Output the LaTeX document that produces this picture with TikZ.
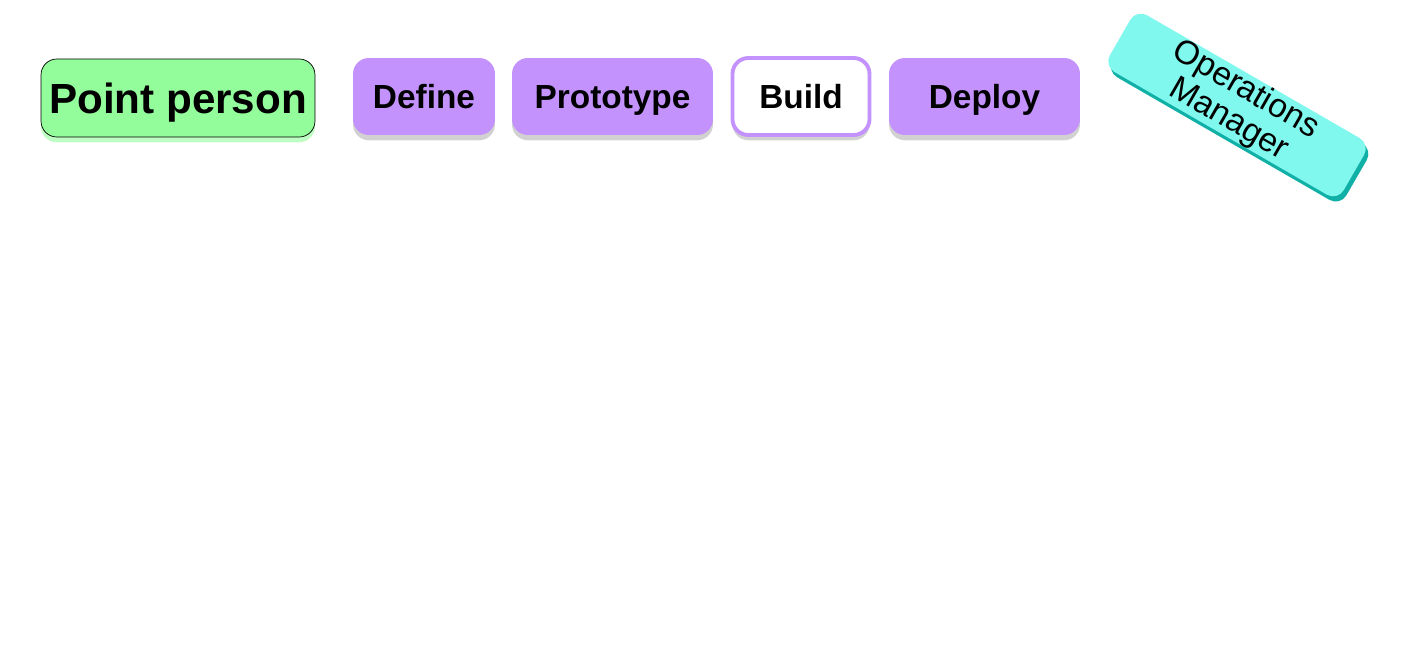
\documentclass[tikz,border=0pt]{standalone}
\usepackage{fontspec}
\setmainfont{Liberation Sans}
\usetikzlibrary{shadows,positioning}
\definecolor{pointgreen}{RGB}{147,253,155}
\definecolor{stagepurple}{RGB}{195,146,253}
\definecolor{opscyan}{RGB}{128,248,238}
\definecolor{opsteal}{RGB}{16,176,166}

\begin{document}
\begin{tikzpicture}[
    x=0.02cm, y=-0.02cm,
    stage/.style={rectangle, rounded corners=9pt, fill=stagepurple, minimum height=1.54cm,
        font=\fontsize{19}{21}\selectfont\bfseries, inner sep=0pt, text height=13.6pt, text depth=0pt,
        drop shadow={shadow xshift=0pt, shadow yshift=-3pt, fill=black, opacity=0.18}},
    lead/.style={rectangle, rounded corners=9pt, draw=black, thin, fill=pointgreen, minimum height=1.56cm,
        font=\fontsize{24}{26}\selectfont\bfseries, inner sep=0pt, text height=17.2pt, text depth=0pt,
        drop shadow={shadow xshift=0pt, shadow yshift=-3pt, fill=pointgreen, opacity=0.6}},
    ops/.style={rectangle, rounded corners=7pt, fill=opscyan, minimum width=5.4cm, minimum height=1.0cm,
        align=center, font=\fontsize{19}{19.5}\selectfont, inner sep=0pt, rotate=-30,
        drop shadow={shadow xshift=1.5pt, shadow yshift=-3pt, fill=opsteal, opacity=1}}
]
\useasboundingbox (0,0) rectangle (1409,662);

\node[lead, minimum width=5.48cm] (point) at (178,98) {Point person};

\node[stage, minimum width=2.84cm] (define) at (424,96.5) {Define};
\node[stage, minimum width=4.02cm] (proto) at (612.5,96.5) {Prototype};
\node[stage, minimum width=2.74cm, fill=white, draw=stagepurple, line width=2.2pt] (build) at (801,96.5) {Build};
\node[stage, minimum width=3.82cm] (deploy) at (984.5,96.5) {Deploy};

\node[ops] (opsmgr) at (1237,105) {Operations\\Manager};
\end{tikzpicture}
\end{document}
